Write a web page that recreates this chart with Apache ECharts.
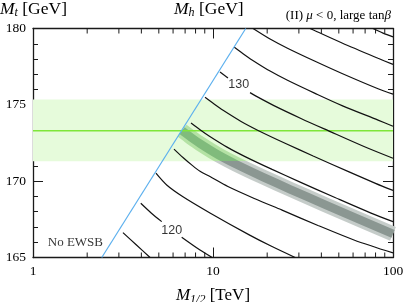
<!DOCTYPE html>
<html><head><meta charset="utf-8">
<script src="https://cdn.jsdelivr.net/npm/echarts@6/dist/echarts.min.js"></script>
<style>html,body{margin:0;padding:0;background:#fff}#c{width:405px;height:302px}</style>
</head><body><div id="c"></div>
<script>
// ---- data (x: M1/2 in TeV, y: Mt in GeV) ----
const xMin = 1, xMax = 100, yMin = 165, yMax = 180;
const xMinorTicks = [2,3,4,5,6,7,8,9,20,30,40,50,60,70,80,90];
const mtCentral = 173.3, mtBandLow = 171.3, mtBandHigh = 175.35;
const ewsbBoundary = [[2.41,165],[15.2,180]];
const higgsBand = [[6.73,173.31],[7.55,172.87],[8.47,172.46],[10.67,171.73],[13.43,171.11],[18.97,170.27],[26.8,169.47],[42.5,168.43],[67.3,167.41],[100,166.55]];
const contour118 = [[3.16,166.63],[3.73,165.85],[4.47,165.0]];
const contour120a = [[3.97,168.55],[4.55,167.9],[5.19,167.35]];
const contour120b = [[6.70,166.33],[8.47,165.49],[9.9,165.0]];
const contour122 = [[4.82,170.52],[5.53,169.75],[6.81,168.98],[9.62,167.92],[15.8,166.5],[21.0,165.75],[28.6,165.0]];
const contour124 = [[6.07,172.1],[6.81,171.55],[7.64,171.05],[8.47,170.65],[9.62,170.3],[12.1,169.65],[17.1,168.85],[24.2,168.1],[38.3,167.1],[60.7,166.15],[100,165.3]];
const contour126 = [[7.55,173.81],[8.47,173.37],[9.51,172.96],[11.97,172.23],[15.07,171.61],[21.3,170.77],[30.06,169.97],[47.6,168.93],[75.5,167.91],[100,167.35]];
const contour128 = [[9.03,175.49],[10.14,175.05],[11.38,174.64],[14.32,173.91],[18.03,173.29],[25.5,172.45],[36.0,171.65],[57.0,170.61],[90.4,169.59],[100,169.4]];
const contour130a = [[10.94,177.15],[12.11,176.76]];
const contour130b = [[16.06,175.8],[17.34,175.57],[21.8,174.95],[30.8,174.11],[43.6,173.31],[69.0,172.27],[100,171.5]];
const contour132 = [[13.09,178.79],[14.69,178.35],[16.48,177.94],[20.75,177.21],[26.1,176.59],[36.9,175.75],[52.1,174.95],[82.6,174.0],[100,173.6]];
const contour134 = [[16.7,180],[20.75,179.31],[26.1,178.69],[36.9,177.85],[52.1,177.05],[82.6,176.05],[100,175.7]];
const contour136 = [[34.6,180],[36.9,179.85],[52.1,179.05],[82.6,178.05],[100,177.65]];
const contour138 = [[77.4,180],[88,179.7],[100,179.45]];
const contourLabelText = ['130','120'];
const contourLabelX = [13.9, 5.9];
const contourLabelY = [176.3, 166.75];
const regionLabelText = ['No EWSB'];
const regionLabelX = [1.72];
const regionLabelY = [166.0];

const serif = '"Liberation Serif", "DejaVu Serif", serif';
const axisCol = '#1a1a1a';
const chart = echarts.init(document.getElementById('c'), null, {renderer:'canvas'});

const contours = [contour118, contour120a, contour120b, contour122, contour124, contour126, contour128, contour130a, contour130b, contour132, contour134, contour136, contour138];

const series = [];
series.push({
  type:'custom', z:1, silent:true, xAxisIndex:0, yAxisIndex:0,
  encode:{x:0, y:1},
  data:[[10, mtCentral, mtBandLow, mtBandHigh]],
  renderItem:(p, api) => {
    const a = api.coord([xMin, api.value(3)]);
    const b = api.coord([xMax, api.value(2)]);
    return {type:'rect', shape:{x:a[0], y:a[1], width:b[0]-a[0], height:b[1]-a[1]}, style:{fill:'#e6fbdb'}};
  }
});
series.push({type:'line', z:2, silent:true, data:higgsBand, showSymbol:false, smooth:0.3,
  lineStyle:{width:15, cap:'butt', join:'round'}});
series.push({type:'line', z:2, silent:true, data:higgsBand, showSymbol:false, smooth:0.3,
  lineStyle:{width:8.5, cap:'butt', join:'round'}});
series.push({type:'line', z:3, silent:true, data:[[xMin, mtCentral],[xMax, mtCentral]], showSymbol:false,
  lineStyle:{color:'#7fe63a', width:1.4}});
contours.forEach(c => series.push({type:'line', z:4, silent:true, data:c, showSymbol:false, smooth:0.3,
  lineStyle:{color:'#111', width:1.2}}));
series.push({type:'line', z:4, silent:true, data:ewsbBoundary, showSymbol:false,
  lineStyle:{color:'#5cb0ee', width:1.2}});
series.push({type:'scatter', z:5, silent:true, symbolSize:0,
  data: contourLabelText.map((t,i)=>({name:t, value:[contourLabelX[i], contourLabelY[i]]})),
  label:{show:true, position:'inside', formatter:'{b}', color:'#000', fontSize:12.5, fontFamily:'"Liberation Sans", Arial, sans-serif'}});
series.push({type:'scatter', z:5, silent:true, symbolSize:0,
  data: regionLabelText.map((t,i)=>({name:t, value:[regionLabelX[i], regionLabelY[i]]})),
  label:{show:true, position:'inside', formatter:'{b}', color:'#000', fontSize:13, fontFamily:serif}});
series.push({type:'custom', z:6, silent:true, clip:false, encode:{x:0, y:1},
  data: xMinorTicks.map(v => [v, yMin]),
  renderItem:(p, api) => {
    const v = api.value(0);
    const b = api.coord([v, yMin]);
    const t = api.coord([v, yMax]);
    const st = {stroke:axisCol, lineWidth:1};
    return {type:'group', children:[
      {type:'line', shape:{x1:b[0], y1:b[1], x2:b[0], y2:b[1]-5}, style:st},
      {type:'line', shape:{x1:t[0], y1:t[1], x2:t[0], y2:t[1]+5}, style:st}
    ]};
  }
});

function richMath(size) {
  return {
    i:{fontFamily:serif, fontStyle:'italic', fontSize:size, color:'#000'},
    s:{fontFamily:serif, fontStyle:'italic', fontSize:Math.round(size*0.68), color:'#000', padding:[Math.round(size*0.45),0,0,0]},
    r:{fontFamily:serif, fontSize:size, color:'#000'}
  };
}

const xAxisBase = {
  type:'log', logBase:10, min:xMin, max:xMax,
  axisLine:{show:true, lineStyle:{color:axisCol, width:1.3}},
  axisTick:{show:true, inside:true, length:10, lineStyle:{color:axisCol, width:1}},
  splitLine:{show:false}
};
const yAxisBase = {
  type:'value', min:yMin, max:yMax, interval:5,
  axisLine:{show:true, lineStyle:{color:axisCol, width:1.3}},
  axisTick:{show:true, inside:true, length:10, lineStyle:{color:axisCol, width:1}},
  minorTick:{show:true, splitNumber:5, length:5, lineStyle:{color:axisCol, width:1}},
  splitLine:{show:false}, minorSplitLine:{show:false}
};

chart.setOption({
  animation:false,
  backgroundColor:'#fff',
  grid:{left:33, right:12, top:28.5, bottom:44.5, containLabel:false, outerBoundsMode:'none'},
  xAxis:[
    Object.assign({}, xAxisBase, {position:'bottom',
      axisLabel:{show:true, margin:7, fontFamily:serif, fontSize:13.5, color:'#000'},
      name:'{i|M}{s|1/2}{r| [TeV]}', nameLocation:'middle', nameGap:28,
      nameTextStyle:{rich:richMath(17)}}),
    Object.assign({}, xAxisBase, {position:'top', axisLabel:{show:false}})
  ],
  yAxis:[
    Object.assign({}, yAxisBase, {position:'left',
      axisLabel:{show:true, margin:7, fontFamily:serif, fontSize:13.5, color:'#000'}}),
    Object.assign({}, yAxisBase, {position:'right', axisLabel:{show:false}})
  ],
  visualMap:[
    {type:'piecewise', show:false, dimension:1, seriesIndex:1,
      pieces:[{gt:mtBandLow, lte:mtBandHigh, color:'#b4e2a4'}], outOfRange:{color:'#c5ccc9'}},
    {type:'piecewise', show:false, dimension:1, seriesIndex:2,
      pieces:[{gt:mtBandLow, lte:mtBandHigh, color:'#80bb7c'}], outOfRange:{color:'#8b9792'}}
  ],
  graphic:[
    {type:'text', left:0, top:0, style:{text:'{i|M}{s|t}{r| [GeV]}', rich:richMath(17.5)}},
    {type:'text', left:174, top:0, style:{text:'{i|M}{s|h}{r| [GeV]}', rich:richMath(17.5)}},
    {type:'text', right:14, top:9, style:{text:'{r|(II) }{i|μ}{r| < 0, large tan}{i|β}',
      rich:{r:{fontFamily:serif, fontSize:13, color:'#000'}, i:{fontFamily:serif, fontStyle:'italic', fontSize:13, color:'#000'}}}}
  ],
  series
});
</script></body></html>
